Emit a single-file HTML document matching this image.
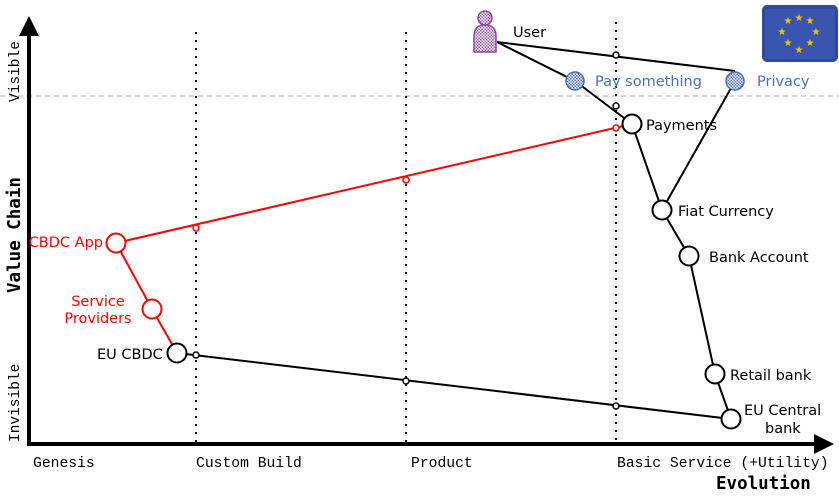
<!DOCTYPE html>
<html><head><meta charset="utf-8"><style>
html,body{margin:0;padding:0;background:#fff;}
svg{display:block;}
.l{font-family:"DejaVu Sans","Liberation Sans",sans-serif;font-size:14.5px;}
.m{font-family:"Liberation Mono",monospace;font-size:14.7px;}
</style></head><body>
<svg width="839" height="501" viewBox="0 0 839 501" xmlns="http://www.w3.org/2000/svg">
<defs>
<pattern id="chk" width="3" height="3" patternUnits="userSpaceOnUse"><rect width="3" height="3" fill="#fff"/><rect width="1.5" height="1.5" fill="#4a6fc0"/><rect x="1.5" y="1.5" width="1.5" height="1.5" fill="#4a6fc0"/></pattern>
<pattern id="chkp" width="3" height="3" patternUnits="userSpaceOnUse"><rect width="3" height="3" fill="#fff"/><rect width="1.5" height="1.5" fill="#9b59b6"/><rect x="1.5" y="1.5" width="1.5" height="1.5" fill="#9b59b6"/></pattern>
</defs>
<line x1="0" y1="96" x2="839" y2="96" stroke="#bbb" stroke-dasharray="5,4" stroke-width="1.3"/>
<g stroke="#000" stroke-width="2" stroke-dasharray="2,6">
<line x1="196" y1="32" x2="196" y2="442"/>
<line x1="406" y1="32" x2="406" y2="442"/>
<line x1="616" y1="22" x2="616" y2="442"/>
</g>
<line x1="29" y1="444" x2="29" y2="30" stroke="#000" stroke-width="4"/>
<polygon points="29,16 19,36 39,36" fill="#000"/>
<line x1="27" y1="444" x2="818" y2="444" stroke="#000" stroke-width="4"/>
<polygon points="834,444 814,434 814,454" fill="#000"/>
<text x="0" y="0" transform="translate(19,102) rotate(-90)" font-family="Liberation Mono,monospace" font-size="14.5">Visible</text>
<text x="0" y="0" transform="translate(19,442) rotate(-90)" font-family="Liberation Mono,monospace" font-size="14.5">Invisible</text>
<text x="0" y="0" transform="translate(20,293) rotate(-90)" font-family="DejaVu Sans Mono,monospace" font-weight="bold" font-size="17.5">Value Chain</text>
<text class="m" x="33" y="467">Genesis</text>
<text class="m" x="196" y="467">Custom Build</text>
<text class="m" x="411" y="467">Product</text>
<text class="m" x="617" y="467">Basic Service (+Utility)</text>
<text x="716" y="489" font-family="DejaVu Sans Mono,monospace" font-weight="bold" font-size="17.5">Evolution</text>
<g stroke="#000" stroke-width="2" fill="none">
<line x1="497" y1="42" x2="735" y2="71"/>
<line x1="497" y1="42" x2="575" y2="81"/>
<line x1="575" y1="81" x2="632" y2="124"/>
<line x1="735" y1="81" x2="662" y2="210"/>
<line x1="632" y1="124" x2="662" y2="210"/>
<line x1="662" y1="210" x2="689" y2="256"/>
<line x1="689" y1="256" x2="715" y2="374"/>
<line x1="715" y1="374" x2="731" y2="419"/>
<line x1="177" y1="353" x2="731" y2="419"/>
</g>
<g stroke="#f00" stroke-width="2" fill="none">
<line x1="116" y1="243" x2="632" y2="124"/>
<line x1="116" y1="243" x2="152" y2="309"/>
<line x1="152" y1="309" x2="177" y2="353"/>
</g>
<g fill="#fff" stroke-width="1.5">
<circle cx="616" cy="55" r="3" stroke="#000"/>
<circle cx="616" cy="106" r="3" stroke="#000"/>
<circle cx="616" cy="128" r="3" stroke="#f00"/>
<circle cx="406" cy="180" r="3" stroke="#f00"/>
<circle cx="196" cy="228" r="3" stroke="#f00"/>
<circle cx="196" cy="355" r="3" stroke="#000"/>
<circle cx="406" cy="381" r="3" stroke="#000"/>
<circle cx="616" cy="406" r="3" stroke="#000"/>
</g>
<g fill="#fff" stroke="#000" stroke-width="2">
<circle cx="632" cy="124" r="9.5"/>
<circle cx="662" cy="210" r="9.5"/>
<circle cx="689" cy="256" r="9.5"/>
<circle cx="715" cy="374" r="9.5"/>
<circle cx="731" cy="419" r="9.5"/>
<circle cx="177" cy="353" r="9.5"/>
</g>
<g fill="#fff" stroke="#f00" stroke-width="2">
<circle cx="116" cy="243" r="9.5"/>
<circle cx="152" cy="309" r="9.5"/>
</g>
<circle cx="575" cy="81" r="9" fill="url(#chk)" stroke="#4a6fc0" stroke-width="1.5"/>
<circle cx="735" cy="81" r="9" fill="url(#chk)" stroke="#4a6fc0" stroke-width="1.5"/>
<circle cx="485" cy="18" r="7" fill="url(#chkp)" stroke="#8e44ad" stroke-width="1.5"/>
<path d="M474,52 L474,36 Q474,25 485,25 Q496,25 496,36 L496,52 Z" fill="url(#chkp)" stroke="#8e44ad" stroke-width="1.5"/>
<rect x="762" y="5" width="76" height="57" rx="5" fill="#2c4a9e"/>
<rect x="765" y="9" width="70" height="50" rx="3" fill="#3a55b0"/>
<g fill="#f5c400" font-size="10" font-family="DejaVu Sans,sans-serif" text-anchor="middle">
<text x="799" y="21">★</text><text x="810" y="24">★</text><text x="816" y="35">★</text><text x="810" y="46">★</text>
<text x="799" y="53">★</text><text x="788" y="46">★</text><text x="782" y="35">★</text><text x="788" y="24">★</text>
</g>
<text class="l" x="513" y="37">User</text>
<text class="l" x="595" y="86" fill="#4a6fc0">Pay something</text>
<text class="l" x="757" y="86" fill="#4a6fc0">Privacy</text>
<text class="l" x="646" y="130">Payments</text>
<text class="l" x="678" y="216">Fiat Currency</text>
<text class="l" x="709" y="262">Bank Account</text>
<text class="l" x="730" y="380">Retail bank</text>
<text class="l" x="744" y="415">EU Central</text>
<text class="l" x="765" y="433">bank</text>
<text class="l" x="97" y="359">EU CBDC</text>
<text class="l" x="103" y="247" fill="#f00" text-anchor="end">CBDC App</text>
<text class="l" x="98" y="306" fill="#f00" text-anchor="middle">Service</text>
<text class="l" x="98" y="323" fill="#f00" text-anchor="middle">Providers</text>
</svg>
</body></html>
